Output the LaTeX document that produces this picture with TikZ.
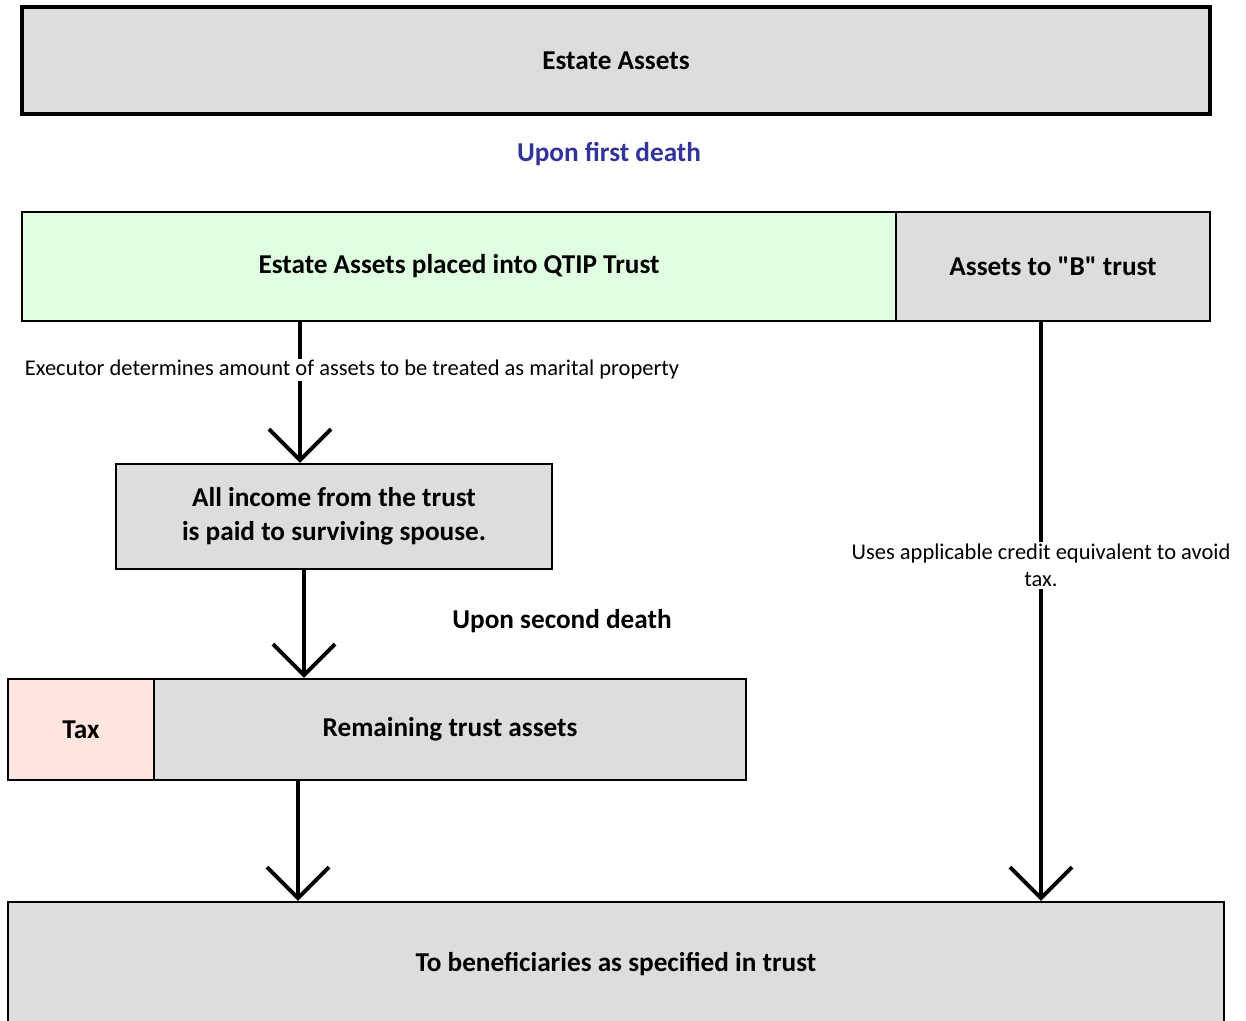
\documentclass[tikz,border=0pt]{standalone}
\usepackage{fontspec}
\setmainfont{Carlito}
\usetikzlibrary{positioning,calc,arrows.meta}

\definecolor{boxgray}{HTML}{DDDDDD}
\definecolor{qtipgreen}{HTML}{E0FFE0}
\definecolor{taxpink}{HTML}{FFE5E0}
\definecolor{deathblue}{HTML}{333399}

\tikzset{
  box/.style={draw, line width=1.4pt, fill=boxgray, inner sep=0pt,
    font=\bfseries\fontsize{15.5}{19.5}\selectfont, align=center},
  stage/.style={font=\bfseries\fontsize{15.5}{19.5}\selectfont},
  note/.style={fill=white, inner sep=1pt, align=center,
    font=\fontsize{12.8}{15.3}\selectfont},
  flow/.style={line width=2.2pt, -{Straight Barb[length=0.62cm, width=1.24cm]}},
}

\begin{document}
\begin{tikzpicture}[x=0.02cm, y=-0.02cm]
    \useasboundingbox (0,0) rectangle (1246,1020);

    % boxes
    \node[box, line width=2pt, minimum width=23.76cm, minimum height=2.14cm] (estate) at (616,60.5) {Estate Assets};
    \node[stage, text=deathblue] (first) at (609,154) {Upon first death};
    \node[box, fill=qtipgreen, minimum width=17.48cm, minimum height=2.18cm] (qtip) at (459,266.5) {Estate Assets placed into QTIP Trust};
    \node[box, minimum width=6.28cm, minimum height=2.18cm] (btrust) at (1053,266.5) {Assets to \textquotedbl B\textquotedbl{} trust};
    \node[box, minimum width=8.72cm, minimum height=2.10cm] (income) at (334,516.5) {All income from the trust\\is paid to surviving spouse.};
    \node[stage] (second) at (562,621) {Upon second death};
    \node[box, fill=taxpink, minimum width=2.92cm, minimum height=2.02cm] (tax) at (81,729.5) {Tax};
    \node[box, minimum width=11.84cm, minimum height=2.02cm] (remain) at (450,729.5) {Remaining trust assets};
    \node[box, minimum width=24.32cm, minimum height=2.48cm] (final) at (616,964) {To beneficiaries as specified in trust};

    % arrow columns
    \coordinate (colA) at (300,0);
    \coordinate (colB) at (304,0);
    \coordinate (colC) at (298,0);

    % connectors
    \draw[flow] (qtip.south -| colA) -- (income.north -| colA);
    \node[note] (executor) at (352,370) {Executor determines amount of assets to be treated as marital property};
    \draw[flow] (income.south -| colB) -- (remain.north -| colB);
    \draw[flow] (remain.south -| colC) -- (final.north -| colC);
    \node[note] (credit) at (1041,565.5) {Uses applicable credit equivalent to avoid\\tax.};
    \draw[line width=2.2pt] (btrust.south -| credit) -- (credit.north);
    \draw[flow] (credit.south) -- (final.north -| credit);
\end{tikzpicture}
\end{document}
